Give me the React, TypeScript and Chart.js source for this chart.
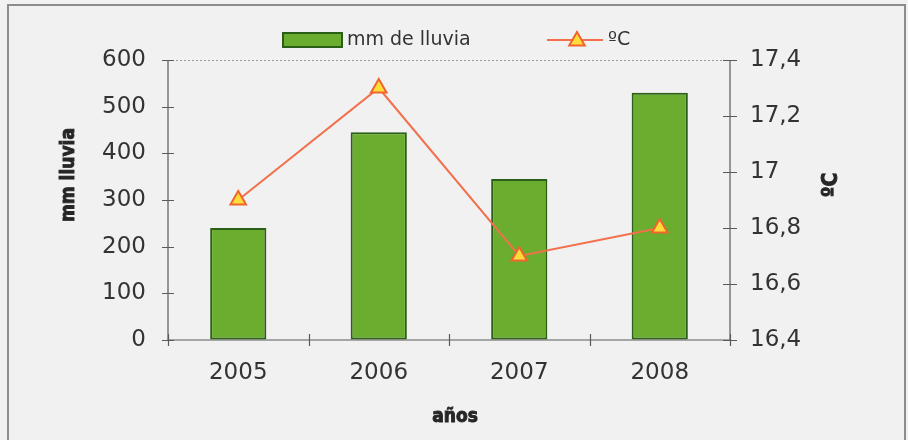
import React, { useEffect, useRef } from "react";
import { Chart, registerables } from "chart.js";

Chart.register(...registerables);

const categories = ["2005", "2006", "2007", "2008"];
const rainLabel = "mm de lluvia";
const rainValues = [240, 445, 345, 530];
const tempLabel = "ºC";
const tempValues = [16.9, 17.3, 16.7, 16.8];
const leftTitle = "mm lluvia";
const rightTitle = "ºC";
const xTitle = "años";

const BAR_FILL = "#6aad2f";
const BAR_BORDER = "#2b5e16";
const LINE_COLOR = "#f2704c";
const TRI_FILL = "#ffdc3a";
const TRI_BORDER = "#f0642e";
const TEXT = "#333333";
const AXIS = "#5a5a5a";
const BG = "#f1f1f1";
const TICK_FONT = "DejaVu Sans";
const TITLE_FONT = "'DejaVu Sans Condensed', 'DejaVu Sans'";

const fmt = (v: number) => String(+Number(v).toFixed(1)).replace(".", ",");

function heavyText(ctx: any, s: string, x: number, y: number) {
  ctx.lineWidth = 0.9;
  ctx.strokeStyle = ctx.fillStyle;
  ctx.fillText(s, x, y);
  ctx.strokeText(s, x, y);
}

const decorPlugin = {
  id: "decor",
  beforeDraw(chart: any) {
    const { ctx, width, height } = chart;
    ctx.save();
    ctx.fillStyle = BG;
    ctx.fillRect(0, 0, width, height);
    ctx.strokeStyle = "#8c8c8c";
    ctx.lineWidth = 2;
    ctx.strokeRect(8, 5, 897, 445);
    ctx.restore();
  },
  beforeDatasetsDraw(chart: any) {
    const { ctx, chartArea } = chart;
    const { left, right, top, bottom } = chartArea;
    const yL = chart.scales.y;
    const yR = chart.scales.y1;
    ctx.save();
    ctx.strokeStyle = "#9a9a9a";
    ctx.lineWidth = 1;
    ctx.setLineDash([2, 2]);
    ctx.beginPath();
    ctx.moveTo(left, top + 0.5);
    ctx.lineTo(right, top + 0.5);
    ctx.stroke();
    ctx.setLineDash([]);
    ctx.strokeStyle = AXIS;
    ctx.lineWidth = 1.2;
    ctx.beginPath();
    ctx.moveTo(left, top);
    ctx.lineTo(left, bottom);
    ctx.moveTo(right, top);
    ctx.lineTo(right, bottom);
    ctx.moveTo(left, bottom);
    ctx.lineTo(right, bottom);
    yL.ticks.forEach((t: any) => {
      const p = Math.round(yL.getPixelForValue(t.value)) + 0.5;
      ctx.moveTo(left - 6, p);
      ctx.lineTo(left + 6, p);
    });
    yR.ticks.forEach((t: any) => {
      const p = Math.round(yR.getPixelForValue(t.value)) + 0.5;
      ctx.moveTo(right - 7, p);
      ctx.lineTo(right + 7, p);
    });
    const n = categories.length;
    for (let i = 0; i <= n; i++) {
      const x = Math.round(left + (i * (right - left)) / n) + 0.5;
      ctx.moveTo(x, bottom - 6);
      ctx.lineTo(x, bottom + 6);
    }
    ctx.stroke();
    ctx.restore();
  },
  afterDraw(chart: any) {
    const { ctx, chartArea } = chart;
    ctx.save();
    ctx.fillStyle = "#262626";
    ctx.textAlign = "center";
    ctx.textBaseline = "middle";
    ctx.font = `bold 19px ${TITLE_FONT}`;
    heavyText(ctx, xTitle, (chartArea.left + chartArea.right) / 2 + 6, 417);
    ctx.save();
    ctx.translate(69, 175);
    ctx.rotate(-Math.PI / 2);
    heavyText(ctx, leftTitle, 0, 0);
    ctx.restore();
    ctx.save();
    ctx.translate(832, 185);
    ctx.rotate(-Math.PI / 2);
    ctx.font = `bold 21px ${TITLE_FONT}`;
    heavyText(ctx, rightTitle, 0, 0);
    ctx.restore();

    // legend
    const ds = chart.data.datasets;
    ctx.fillStyle = ds[0].backgroundColor;
    ctx.strokeStyle = ds[0].borderColor;
    ctx.lineWidth = 2;
    ctx.fillRect(283, 33, 59, 14);
    ctx.strokeRect(283, 33, 59, 14);
    ctx.fillStyle = TEXT;
    ctx.textAlign = "left";
    ctx.font = `19px ${TICK_FONT}`;
    ctx.fillText(ds[0].label, 347, 40);
    ctx.strokeStyle = ds[1].borderColor;
    ctx.lineWidth = 2;
    ctx.beginPath();
    ctx.moveTo(547, 40);
    ctx.lineTo(603, 40);
    ctx.stroke();
    const r = 9;
    const cx = 577;
    const cy = 41;
    ctx.beginPath();
    for (let k = 0; k < 3; k++) {
      const a = -Math.PI / 2 + (k * 2 * Math.PI) / 3;
      const px = cx + Math.cos(a) * r;
      const py = cy + Math.sin(a) * r;
      if (k === 0) ctx.moveTo(px, py);
      else ctx.lineTo(px, py);
    }
    ctx.closePath();
    ctx.fillStyle = TRI_FILL;
    ctx.fill();
    ctx.strokeStyle = TRI_BORDER;
    ctx.stroke();
    ctx.fillStyle = TEXT;
    ctx.fillText(ds[1].label, 608, 40);
    ctx.restore();
  },
};

export default function App() {
  const ref = useRef<HTMLCanvasElement>(null);
  useEffect(() => {
    if (!ref.current) return;
    const chart = new Chart(ref.current, {
      type: "bar",
      data: {
        labels: categories,
        datasets: [
          {
            type: "bar",
            label: rainLabel,
            data: rainValues,
            backgroundColor: BAR_FILL,
            borderColor: BAR_BORDER,
            borderWidth: 2,
            borderSkipped: false,
            barPercentage: 0.4,
            categoryPercentage: 1,
            yAxisID: "y",
            order: 2,
          },
          {
            type: "line",
            label: tempLabel,
            data: tempValues,
            borderColor: LINE_COLOR,
            borderWidth: 2,
            pointStyle: "triangle",
            pointRadius: 9,
            pointBackgroundColor: TRI_FILL,
            pointBorderColor: TRI_BORDER,
            pointBorderWidth: 2,
            tension: 0,
            yAxisID: "y1",
            order: 1,
          } as any,
        ],
      },
      options: {
        animation: false,
        responsive: false,
        maintainAspectRatio: false,
        layout: { padding: { top: 60, left: 0, right: 0, bottom: 0 } },
        plugins: { legend: { display: false }, tooltip: { enabled: false } },
        scales: {
          x: {
            offset: true,
            grid: { display: true, drawOnChartArea: false, drawTicks: true, tickLength: 6, color: "transparent" },
            border: { display: false },
            ticks: { color: TEXT, font: { family: TICK_FONT, size: 23 }, padding: 13 },
            afterFit: (s: any) => {
              s.height = 100;
            },
          },
          y: {
            position: "left",
            min: 0,
            max: 600,
            ticks: { stepSize: 100, color: TEXT, font: { family: TICK_FONT, size: 23 }, padding: 16 },
            grid: { display: true, drawOnChartArea: false, drawTicks: true, tickLength: 6, color: "transparent" },
            border: { display: false },
            afterFit: (s: any) => {
              s.width = 168;
            },
          },
          y1: {
            position: "right",
            min: 16.4,
            max: 17.4,
            ticks: {
              stepSize: 0.2,
              color: TEXT,
              font: { family: TICK_FONT, size: 23 },
              padding: 14,
              callback: (v: any) => fmt(v),
            },
            grid: { display: true, drawOnChartArea: false, drawTicks: true, tickLength: 6, color: "transparent" },
            border: { display: false },
            afterFit: (s: any) => {
              s.width = 178;
            },
          },
        },
      },
      plugins: [decorPlugin],
    });
    return () => chart.destroy();
  }, []);
  return (
    <div style={{ position: "fixed", left: 0, top: 0, width: 908, height: 440, background: BG }}>
      <canvas ref={ref} width={908} height={440} style={{ width: 908, height: 440, display: "block" }} />
    </div>
  );
}
